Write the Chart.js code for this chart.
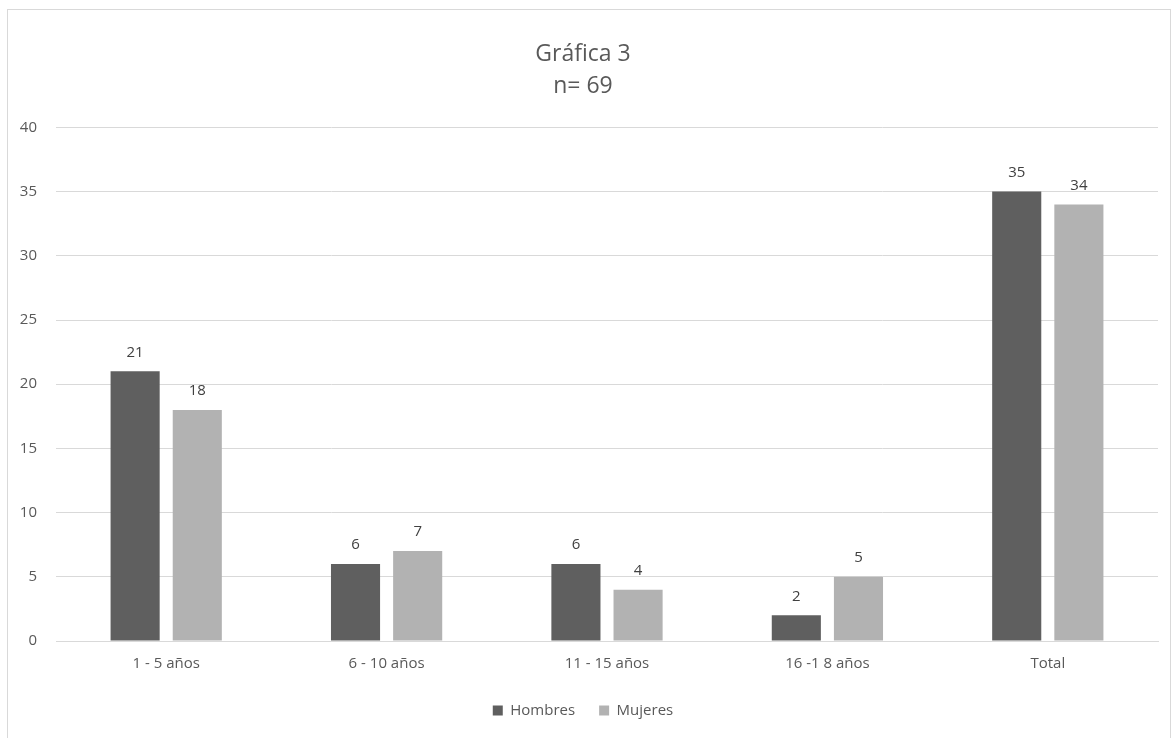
<!DOCTYPE html>
<html>
<head>
<meta charset="utf-8">
<script src="https://cdn.jsdelivr.net/npm/chart.js@4"></script>
<style>
  body { margin: 0; background: #fff; }
  #frame {
    position: absolute; left: 7px; top: 9px;
    width: 1162px; height: 740px;
    border: 1px solid #d9d9d9; border-bottom: none;
  }
  canvas { display: block; }
</style>
</head>
<body>
<div id="frame"><canvas id="chart" width="1162" height="728"></canvas></div>
<script>
// Data
const categories = ["1 - 5 años", "6 - 10 años", "11 - 15 años", "16 -1 8 años", "Total"];
const hombres = [21, 6, 6, 2, 35];
const mujeres = [18, 7, 4, 5, 34];
const yTicks = [0, 5, 10, 15, 20, 25, 30, 35, 40];

const FONT = "'Open Sans', 'Liberation Sans', sans-serif";
const TEXT = "#595959";

// value labels above each bar
const barLabels = {
  id: "barLabels",
  afterDatasetsDraw(chart) {
    const ctx = chart.ctx;
    ctx.save();
    ctx.font = "15px " + FONT;
    ctx.fillStyle = "#404040";
    ctx.textAlign = "center";
    ctx.textBaseline = "middle";
    chart.data.datasets.forEach((ds, i) => {
      chart.getDatasetMeta(i).data.forEach((bar, j) => {
        ctx.fillText(ds.data[j], bar.x, bar.y - 19);
      });
    });
    ctx.restore();
  }
};

new Chart(document.getElementById("chart"), {
  type: "bar",
  data: {
    labels: categories,
    datasets: [
      { label: "Hombres", data: hombres, backgroundColor: "#5f5f5f" },
      { label: "Mujeres", data: mujeres, backgroundColor: "#b2b2b2" }
    ]
  },
  options: {
    responsive: false,
    animation: false,
    categoryPercentage: 0.564,
    barPercentage: 0.79,
    layout: { padding: { left: 0, right: 12, top: 0, bottom: 10 } },
    plugins: {
      title: {
        display: true,
        text: ["Gráfica 3", "n= 69"],
        color: TEXT,
        font: { family: FONT, size: 23, weight: "normal", lineHeight: 1.4 },
        padding: { top: 28, bottom: 25 }
      },
      legend: {
        position: "bottom",
        labels: {
          color: TEXT,
          font: { family: FONT, size: 15 },
          boxWidth: 10,
          boxHeight: 10,
          padding: 24
        }
      },
      tooltip: { enabled: false }
    },
    scales: {
      x: {
        grid: { display: false },
        border: { color: "#d9d9d9" },
        ticks: { color: TEXT, font: { family: FONT, size: 15 }, padding: 6 }
      },
      y: {
        min: 0,
        max: 40,
        afterBuildTicks(scale) { scale.ticks = yTicks.map(v => ({ value: v })); },
        afterFit(scale) { scale.width = 48; },
        grid: { color: "#d9d9d9", drawTicks: false },
        border: { display: false },
        ticks: { color: TEXT, font: { family: FONT, size: 15 }, padding: 19 }
      }
    }
  },
  plugins: [barLabels]
});
</script>
</body>
</html>
